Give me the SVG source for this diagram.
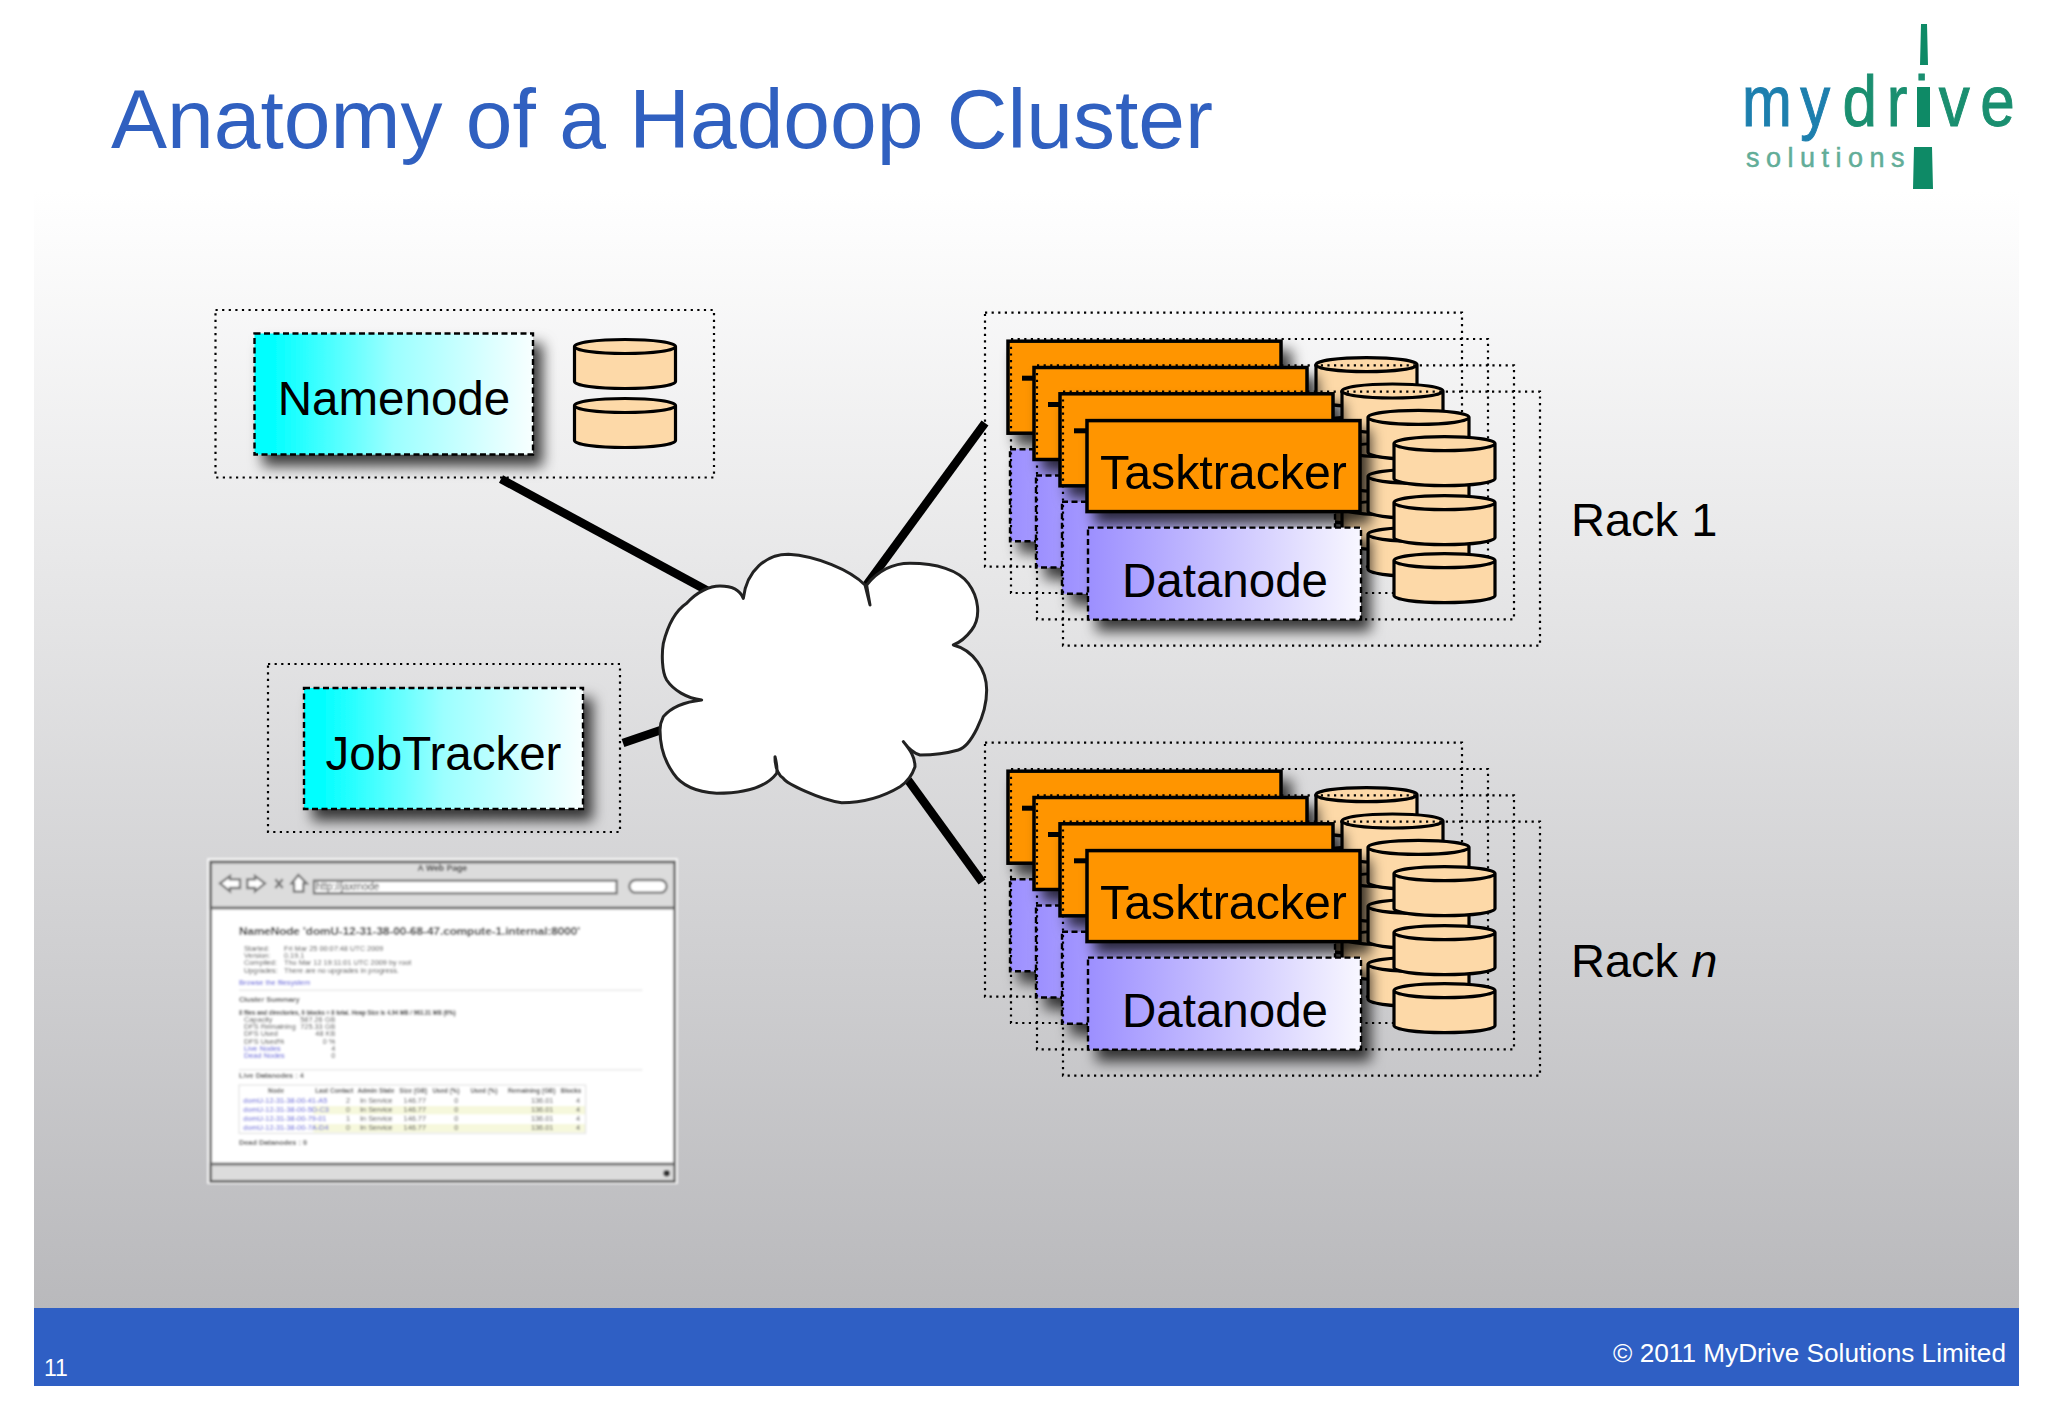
<svg xmlns="http://www.w3.org/2000/svg" xmlns:xlink="http://www.w3.org/1999/xlink" width="2048" height="1418" viewBox="0 0 2048 1418">
<style>
text{font-family:"Liberation Sans",Arial,sans-serif;fill:#000}
.dot{fill:none;stroke:#000;stroke-width:2.2;stroke-dasharray:2.2 4.4}
.lbl{font-size:47.500px;text-anchor:middle}
.rack{font-size:47px}
.orange{fill:#ff9500;stroke:#000;stroke-width:3.5;filter:url(#sh)}
.purple{fill:url(#gp);stroke:#000;stroke-width:2.4;stroke-dasharray:6 3.500;filter:url(#sh)}
.cyan{fill:url(#gc);stroke:#000;stroke-width:2.4;stroke-dasharray:6 3.500;filter:url(#sh)}
.cy{fill:#fdd9a8;stroke:#000;stroke-width:3.2}
.link{stroke:#000;stroke-width:8.5;fill:none}
.bt{font-size:22px;fill:#555}
.bh{font-size:19px;fill:#555;font-weight:bold;text-anchor:middle}
.bl{font-size:22px;fill:#5a5ad8}
</style>
<defs>
<linearGradient id="bg" x1="0" y1="0" x2="0" y2="1"><stop offset="0" stop-color="#ffffff"/><stop offset="1" stop-color="#b9b9bc"/></linearGradient>
<linearGradient id="gp"><stop offset="0" stop-color="#9c8fff"/><stop offset="1" stop-color="#f8f7ff"/></linearGradient>
<linearGradient id="gc"><stop offset="0.06" stop-color="#00ffff"/><stop offset=".5" stop-color="#9cffff"/><stop offset="1" stop-color="#f8ffff"/></linearGradient>
<filter id="sh" x="-15%" y="-20%" width="140%" height="160%"><feDropShadow dx="9" dy="11" stdDeviation="7" flood-color="#000" flood-opacity=".75"/></filter>
<filter id="bl" x="-5%" y="-5%" width="110%" height="110%"><feGaussianBlur stdDeviation="3.200"/></filter>
<g id="cyl"><path class="cy" d="M0 7V42C0 46 22 49 50.500 49S101 46 101 42V7C101 3 79 0 50.500 0S0 3 0 7C0 11 22 14 50.500 14S101 11 101 7"/></g>
<g id="stack"><use href="#cyl" x="331" y="45"/><use href="#cyl" x="331" y="104"/><use href="#cyl" x="331" y="162"/></g>
<g id="back">
<rect class="dot" width="477" height="254"/>
<rect class="orange" x="23" y="28.500" width="273" height="92"/>
<rect x="37" y="63" width="14" height="5"/>
<rect class="purple" x="25" y="136.500" width="273" height="92"/>
<use href="#stack"/>
</g>
</defs>

<rect id="backdrop" x="34" y="190" width="1985" height="1118" fill="url(#bg)"/>
<rect id="footer" x="34" y="1308" width="1985" height="78" fill="#2f5fc4"/>
<text x="111" y="148" font-size="84" style="fill:#3060c0">Anatomy of a Hadoop Cluster</text>
<text x="44" y="1376" font-size="23" style="fill:#fff">11</text>
<text x="2006" y="1362" font-size="26.200" text-anchor="end" style="fill:#fff">© 2011 MyDrive Solutions Limited</text>

<g id="logo">
<text transform="translate(1742 126) scale(.82 1)" font-size="73" stroke="#1d7fae" stroke-width="1" style="fill:#1d7fae" x="0 71">my</text>
<text transform="translate(1744 126) scale(.85 1)" font-size="73" stroke="#1a8f70" stroke-width="1" style="fill:#1a8f70" x="116 168 201 229 278">drive</text>
<path fill="#0e8a66" d="M1917 87H1930V127H1917ZM1921 24H1927L1928 65H1920ZM1914 147H1932L1933 189H1913Z"/>
<text x="1746" y="167" font-size="27" letter-spacing="6.500" stroke="#62ad98" stroke-width=".5" style="fill:#62ad98">solutions</text>
</g>

<g id="connectors">
<line class="link" x1="501" y1="479" x2="708" y2="591"/>
<line class="link" x1="985" y1="423" x2="865" y2="587"/>
<line class="link" x1="623" y1="743" x2="664" y2="729"/>
<line class="link" x1="908" y1="780" x2="982" y2="882"/>
</g>

<g id="namenode">
<rect class="dot" x="215.500" y="310" width="498.500" height="167.500"/>
<rect class="cyan" x="254.500" y="333.500" width="278.500" height="121"/>
<text class="lbl" x="394" y="415">Namenode</text>
<use href="#cyl" x="574.500" y="339.500"/>
<use href="#cyl" x="574.500" y="398.500"/>
</g>

<g id="jobtracker">
<rect class="dot" x="268" y="664" width="352" height="168"/>
<rect class="cyan" x="304" y="688" width="279" height="121"/>
<text class="lbl" x="443.500" y="770">JobTracker</text>
</g>

<g id="cloud" transform="translate(600 520) scale(.33333)">
<path fill="#fff" stroke="#222" stroke-width="9" stroke-linejoin="round" d="M430 235C440 150 500 103 565 103C650 108 750 150 795 195L810 255C805 225 802 210 800 195C840 145 890 130 930 130C1010 130 1075 150 1105 190C1135 230 1145 290 1115 330C1100 350 1085 365 1060 375C1120 390 1160 450 1160 510C1160 590 1110 680 1075 690C1040 700 990 705 960 705C940 700 925 685 910 665C930 690 945 710 945 740C935 770 915 790 900 800C850 830 790 848 725 848C660 840 560 790 550 775C535 765 525 740 525 710C530 730 533 745 530 760C500 800 440 820 350 820C280 815 240 790 220 760C195 725 180 680 180 630C180 610 185 600 190 590C215 560 260 545 305 540C260 535 220 510 200 480C185 455 185 400 190 370C205 310 230 270 260 250C290 215 330 198 360 198C395 198 420 210 430 235Z"/>
</g>

<g id="webui" filter="url(#bl)" transform="translate(190 840) scale(.33333)">
<rect x="52" y="55" width="1411" height="977" fill="#fff"/>
<rect x="62" y="66" width="1392" height="958" fill="#fff" stroke="#666" stroke-width="8"/>
<rect x="62" y="66" width="1392" height="138" fill="#dcdcdc" stroke="#666" stroke-width="8"/>
<rect x="62" y="972" width="1392" height="52" fill="#dcdcdc" stroke="#666" stroke-width="8"/>
<g fill="#fff" stroke="#777" stroke-width="7">
<path d="M90 130L120 108V118H150V144H120V154Z"/>
<path d="M225 130L195 108V118H172V144H195V154Z"/>
<path d="M305 130L325 105L350 130L340 130V155H312V130Z"/>
<rect x="372" y="122" width="908" height="38"/>
<rect x="1318" y="120" width="112" height="38" rx="19"/>
</g>
<path d="M256 118L278 144M278 118L256 144" stroke="#777" stroke-width="7"/>
<circle cx="1430" cy="1000" r="10" fill="#333"/>
<text x="757" y="93" font-size="26" text-anchor="middle" font-weight="bold" style="fill:#444">A Web Page</text>
<text x="378" y="150" font-size="30" style="fill:#333">http://jaxrnode</text>
<text x="147" y="284" font-size="34" font-weight="bold" textLength="1023" lengthAdjust="spacingAndGlyphs" style="fill:#222">NameNode 'domU-12-31-38-00-68-47.compute-1.internal:8000'</text>
<text class="bt" x="162" y="332">Started:</text><text class="bt" x="282" y="332">Fri Mar 25 00:07:48 UTC 2009</text>
<text class="bt" x="162" y="354">Version:</text><text class="bt" x="282" y="354">0.19.1</text>
<text class="bt" x="162" y="376">Compiled:</text><text class="bt" x="282" y="376">Thu Mar 12 19:11:01 UTC 2009 by root</text>
<text class="bt" x="162" y="398">Upgrades:</text><text class="bt" x="282" y="398">There are no upgrades in progress.</text>
<text class="bl" x="147" y="436">Browse the filesystem</text>
<rect x="147" y="449" width="1210" height="3" fill="#ddd"/>
<text class="bt" x="147" y="487" font-weight="bold">Cluster Summary</text>
<text class="bt" x="147" y="524" font-weight="bold" textLength="650" lengthAdjust="spacingAndGlyphs" style="fill:#333">8 files and directories, 0 blocks = 8 total. Heap Size is 4.94 MB / 963.31 MB (0%)</text>
<text class="bt" x="162" y="546">Capacity</text><text class="bt" x="436" y="546" text-anchor="end">587.26 GB</text>
<text class="bt" x="162" y="568">DFS Remaining</text><text class="bt" x="436" y="568" text-anchor="end">725.33 GB</text>
<text class="bt" x="162" y="589">DFS Used</text><text class="bt" x="436" y="589" text-anchor="end">48 KB</text>
<text class="bt" x="162" y="611">DFS Used%</text><text class="bt" x="436" y="611" text-anchor="end">0 %</text>
<text class="bl" x="162" y="633">Live Nodes</text><text class="bt" x="436" y="633" text-anchor="end">4</text>
<text class="bl" x="162" y="655">Dead Nodes</text><text class="bt" x="436" y="655" text-anchor="end">0</text>
<rect x="147" y="688" width="1210" height="3" fill="#ddd"/>
<text class="bt" x="147" y="713" font-weight="bold">Live Datanodes : 4</text>
<rect x="147" y="735" width="1040" height="145" fill="#fff" stroke="#ddd" stroke-width="3"/>
<rect x="370" y="798" width="815" height="25" fill="#f6f8dc"/><rect x="370" y="852" width="815" height="25" fill="#f6f8dc"/>
<text class="bh" x="258" y="758">Node</text><text class="bh" x="433" y="758">Last Contact</text><text class="bh" x="558" y="758">Admin State</text><text class="bh" x="670" y="758">Size (GB)</text><text class="bh" x="768" y="758">Used (%)</text><text class="bh" x="882" y="758">Used (%)</text><text class="bh" x="1025" y="758">Remaining (GB)</text><text class="bh" x="1143" y="758">Blocks</text>
<text class="bl" x="160" y="790">domU-12-31-38-00-41-A5</text><text class="bt" x="480" y="790" text-anchor="end">2</text><text class="bt" x="608" y="790" text-anchor="end">In Service</text><text class="bt" x="708" y="790" text-anchor="end">146.77</text><text class="bt" x="805" y="790" text-anchor="end">0</text><text class="bt" x="1090" y="790" text-anchor="end">136.01</text><text class="bt" x="1170" y="790" text-anchor="end">4</text>
<text class="bl" x="160" y="817">domU-12-31-38-00-5D-C3</text><text class="bt" x="480" y="817" text-anchor="end">0</text><text class="bt" x="608" y="817" text-anchor="end">In Service</text><text class="bt" x="708" y="817" text-anchor="end">146.77</text><text class="bt" x="805" y="817" text-anchor="end">0</text><text class="bt" x="1090" y="817" text-anchor="end">136.01</text><text class="bt" x="1170" y="817" text-anchor="end">4</text>
<text class="bl" x="160" y="844">domU-12-31-38-00-79-01</text><text class="bt" x="480" y="844" text-anchor="end">1</text><text class="bt" x="608" y="844" text-anchor="end">In Service</text><text class="bt" x="708" y="844" text-anchor="end">146.77</text><text class="bt" x="805" y="844" text-anchor="end">0</text><text class="bt" x="1090" y="844" text-anchor="end">136.01</text><text class="bt" x="1170" y="844" text-anchor="end">4</text>
<text class="bl" x="160" y="871">domU-12-31-38-00-7A-D4</text><text class="bt" x="480" y="871" text-anchor="end">0</text><text class="bt" x="608" y="871" text-anchor="end">In Service</text><text class="bt" x="708" y="871" text-anchor="end">146.77</text><text class="bt" x="805" y="871" text-anchor="end">0</text><text class="bt" x="1090" y="871" text-anchor="end">136.01</text><text class="bt" x="1170" y="871" text-anchor="end">4</text>
<text class="bt" x="147" y="914" font-weight="bold">Dead Datanodes : 0</text>
</g>

<g id="rack1">
<use id="rack1-node1" href="#back" x="985" y="312.700"/>
<use id="rack1-node2" href="#back" x="1011" y="339"/>
<use id="rack1-node3" href="#back" x="1037" y="365.300"/>
<g id="rack1-node4" transform="translate(1063 391.600)">
<rect class="dot" width="477" height="254"/>
<rect class="orange" x="24" y="29" width="273" height="91"/>
<text class="lbl" x="160.500" y="97" style="font-size:48.300px">Tasktracker</text>
<rect class="purple" x="25" y="136" width="273" height="92"/>
<text class="lbl" x="162" y="205">Datanode</text>
<use href="#stack"/>
</g>
<text class="rack" x="1571" y="536">Rack 1</text>
</g>

<g id="rackn">
<use id="rackn-node1" href="#back" x="985" y="742.700"/>
<use id="rackn-node2" href="#back" x="1011" y="769"/>
<use id="rackn-node3" href="#back" x="1037" y="795.300"/>
<g id="rackn-node4" transform="translate(1063 821.600)">
<rect class="dot" width="477" height="254"/>
<rect class="orange" x="24" y="29" width="273" height="91"/>
<text class="lbl" x="160.500" y="97" style="font-size:48.300px">Tasktracker</text>
<rect class="purple" x="25" y="136" width="273" height="92"/>
<text class="lbl" x="162" y="205">Datanode</text>
<use href="#stack"/>
</g>
<text class="rack" x="1571" y="977">Rack <tspan font-style="italic">n</tspan></text>
</g>
</svg>
